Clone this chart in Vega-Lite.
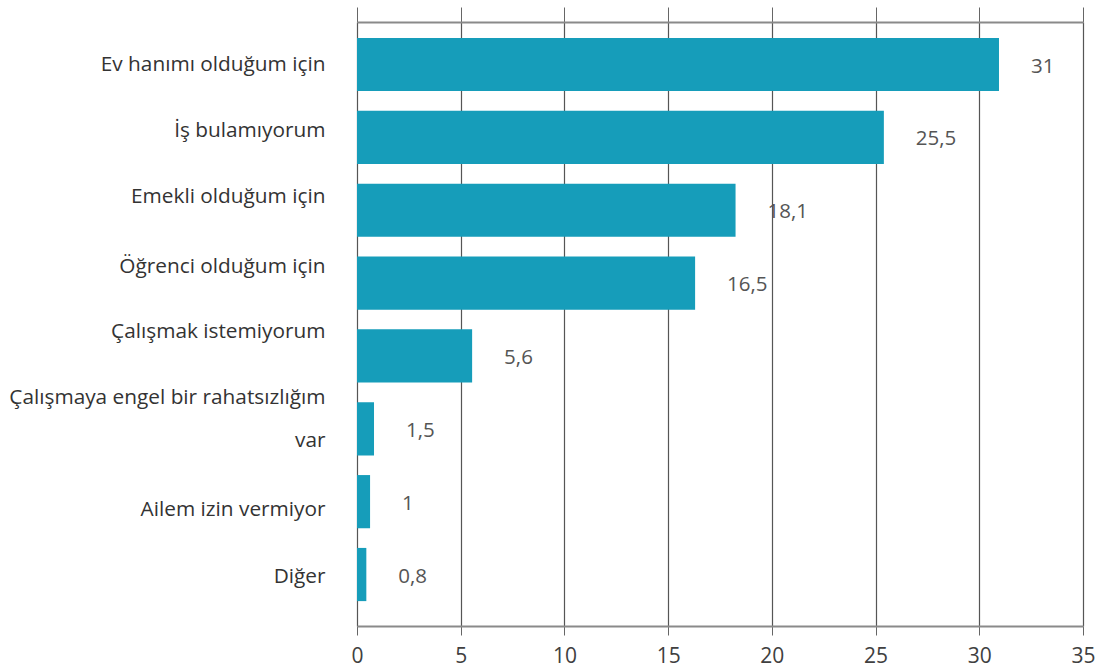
{
  "$schema": "https://vega.github.io/schema/vega-lite/v6.json",
  "width": 726,
  "height": 604,
  "autosize": {"type": "none"},
  "padding": {"left": 357, "top": 22, "right": 17, "bottom": 45},
  "background": "white",
  "config": {"view": {"stroke": null}, "font": "Open Sans"},
  "data": {
    "values": [
      {"reason": "Ev hanımı olduğum için", "value": 30.95, "label": "31"},
      {"reason": "İş bulamıyorum", "value": 25.4, "label": "25,5"},
      {"reason": "Emekli olduğum için", "value": 18.25, "label": "18,1"},
      {"reason": "Öğrenci olduğum için", "value": 16.3, "label": "16,5"},
      {"reason": "Çalışmak istemiyorum", "value": 5.55, "label": "5,6"},
      {"reason": "Çalışmaya engel bir rahatsızlığım var", "value": 0.82, "label": "1,5"},
      {"reason": "Ailem izin vermiyor", "value": 0.63, "label": "1"},
      {"reason": "Diğer", "value": 0.45, "label": "0,8"}
    ]
  },
  "encoding": {
    "y": {
      "field": "reason",
      "type": "nominal",
      "sort": null,
      "scale": {"paddingInner": 0.27, "paddingOuter": 0.28, "align": 0.39},
      "axis": {
        "title": null,
        "domain": false,
        "ticks": false,
        "labelPadding": 32,
        "labelFontSize": 20.8,
        "labelColor": "#333333",
        "labelLimit": 400,
        "labelLineHeight": 43,
        "labelOffset": {
          "condition": [
            {"test": "datum.value == 'İş bulamıyorum'", "value": -6},
            {"test": "datum.value == 'Emekli olduğum için'", "value": -13},
            {"test": "datum.value == 'Öğrenci olduğum için'", "value": -16},
            {"test": "datum.value == 'Çalışmak istemiyorum'", "value": -24},
            {"test": "datum.value == 'Çalışmaya engel bir rahatsızlığım var'", "value": -31},
            {"test": "datum.value == 'Ailem izin vermiyor'", "value": 8},
            {"test": "datum.value == 'Diğer'", "value": 2}
          ],
          "value": 0
        },
        "labelExpr": "datum.value == 'Çalışmaya engel bir rahatsızlığım var' ? ['Çalışmaya engel bir rahatsızlığım', 'var'] : datum.value"
      }
    }
  },
  "layer": [
    {
      "mark": {"type": "bar", "color": "#169DBA"},
      "encoding": {
        "x": {
          "field": "value",
          "type": "quantitative",
          "scale": {"domain": [0, 35], "nice": false},
          "axis": {
            "title": null,
            "orient": "bottom",
            "values": [0, 5, 10, 15, 20, 25, 30, 35],
            "grid": true,
            "gridColor": "#555555",
            "gridWidth": 1.2,
            "tickSize": 9,
            "tickColor": "#666666",
            "domainColor": "#8a8a8a",
            "domainWidth": 2,
            "labelFontSize": 21,
            "labelColor": "#404040",
            "labelPadding": 10,
            "labelFlush": false
          }
        }
      }
    },
    {
      "mark": {"type": "text", "align": "left", "baseline": "middle", "dx": 32, "dy": 2, "fontSize": 20.5, "color": "#555555"},
      "encoding": {
        "x": {
          "field": "value",
          "type": "quantitative",
          "axis": {
            "orient": "top",
            "title": null,
            "labels": false,
            "grid": false,
            "values": [0, 5, 10, 15, 20, 25, 30, 35],
            "tickSize": 15,
            "tickColor": "#666666",
            "domainColor": "#8a8a8a",
            "domainWidth": 2
          }
        },
        "text": {"field": "label"}
      }
    }
  ],
  "resolve": {"axis": {"x": "independent"}}
}
